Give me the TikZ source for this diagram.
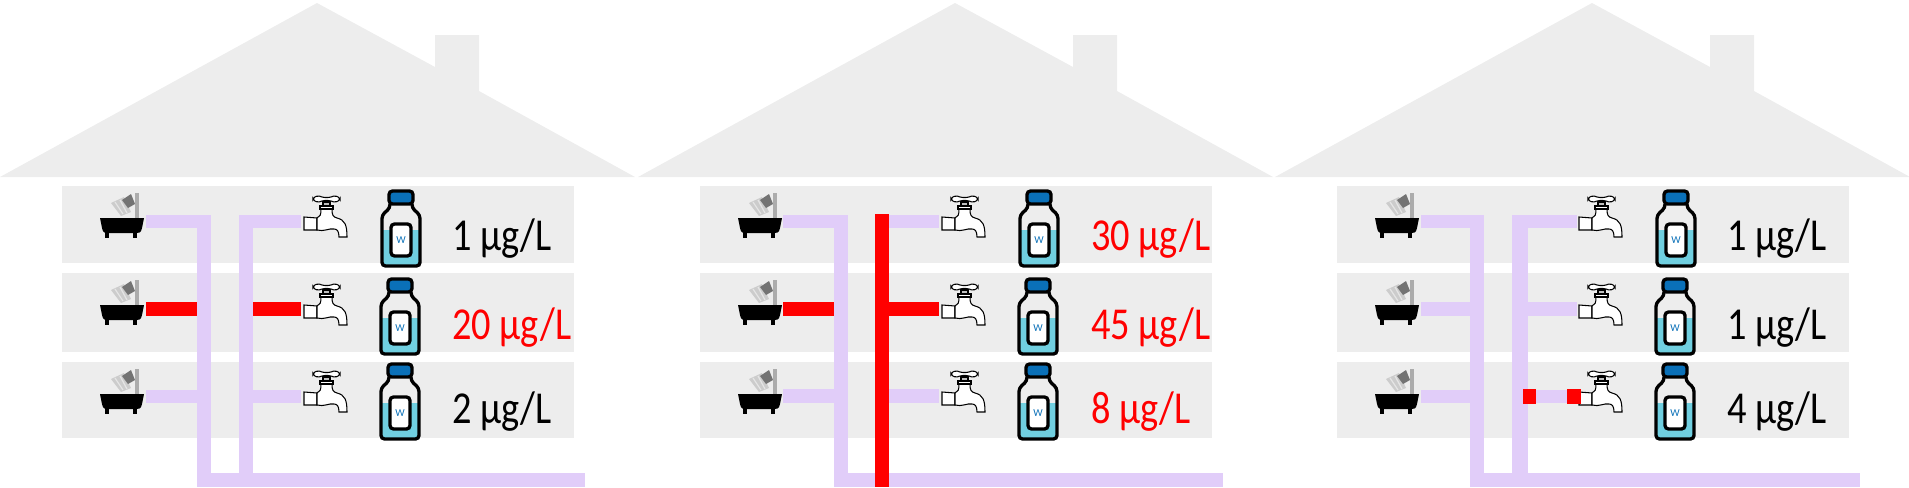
\documentclass[tikz,border=0pt]{standalone}
\usepackage{fontspec}
\setmainfont{Carlito}
\definecolor{wallgray}{RGB}{237, 237, 237}
\definecolor{pipelilac}{RGB}{225, 205, 249}
\definecolor{capblue}{RGB}{10, 112, 184}
\definecolor{waterblue}{RGB}{112, 207, 224}
\tikzset{
  pipe/.style={fill=pipelilac},
  hotpipe/.style={fill=red},
  wall/.style={fill=wallgray},
  conc/.style={font=\fontsize{26}{30}\selectfont, anchor=base west, inner sep=0pt, xscale=0.84},
  bath/.pic={
    % shower
    \fill[gray!65] (35,1) rectangle (39,26);
    \fill[gray!40] (11,11) -- (24,5) -- (31,20) -- (21,24) -- cycle;
    \draw[gray!20, line width=0.7pt] (15,10) -- (23,22) (20,8) -- (27,21);
    \fill[gray!90!black] (22,8) -- (31,2) -- (35,12) -- (28,16) -- cycle;
    % tub
    \fill[black] (0,26) -- (44,26) -- (42,36) .. controls (41,41) and (39,41) .. (37,41) -- (7,41) .. controls (5,41) and (3,41) .. (2,36) -- cycle;
    \fill[black] (5,39) rectangle (9,46);
    \fill[black] (33,39) rectangle (37,46);
  },
  tap/.pic={
    \draw[line width=0.6pt, fill=white] (0,22) -- (13,23) -- (13,35) -- (0,35) -- cycle;
    \draw[line width=0.6pt, fill=white] (13,23) .. controls (16,22) and (17,20) .. (17,14) -- (28,14) .. controls (28,20) and (29,22) .. (33,23) .. controls (41,25) and (43,30) .. (43,42) -- (35,42) .. controls (35,36) and (33,34) .. (30,34) .. controls (25,33) and (20,37) .. (13,35) -- cycle;
    \draw[line width=0.6pt, fill=gray!50] (19,7) rectangle (26,11);
    \draw[line width=0.6pt, fill=white] (16,11) rectangle (29,14);
    \draw[line width=0.6pt, fill=white, rounded corners=1pt] (9,3) -- (14,0.5) -- (19,2.5) -- (26,2.5) -- (31,0.5) -- (36,3) -- (36,5) -- (31,7.5) -- (26,5.5) -- (19,5.5) -- (14,7.5) -- (9,5) -- cycle;
  },
  bottle/.pic={
    % water
    \fill[waterblue] (1,40) rectangle (39,76);
    % glass
    \draw[line width=1.9pt, rounded corners=2pt] (9,14) -- (9,18) -- (1,25) -- (1,76) -- (39,76) -- (39,25) -- (31,18) -- (31,14);
    % cap
    \draw[line width=1.9pt, fill=capblue, rounded corners=2pt] (8,1) rectangle (32,14);
    % label
    \draw[line width=1.9pt, fill=white, rounded corners=2pt] (10,34) rectangle (30,66);
    \node[text=capblue, font=\fontsize{6}{6}\selectfont, inner sep=0pt] at (20,50) {W};
  },
  house/.pic={
    % roof and chimney
    \fill[wall] (0,177) -- (317,3) -- (435,67) -- (435,35) -- (479,35) -- (479,91) -- (635,177) -- cycle;
    % floors
    \fill[wall] (62,186) rectangle (574,263);
    \fill[wall] (62,273) rectangle (574,352);
    \fill[wall] (62,362) rectangle (574,438);
    % fixtures
    \pic at (100,192) {bath};
    \pic at (100,279) {bath};
    \pic at (100,368) {bath};
    \pic at (304,195) {tap};
    \pic at (304,283) {tap};
    \pic at (304,370) {tap};
    \pic at (381,190) {bottle};
    \pic at (380,278) {bottle};
    \pic at (380,363) {bottle};
  },
}

\begin{document}
\begin{tikzpicture}[x=0.02cm, y=-0.02cm]
  \useasboundingbox (0,0) rectangle (1909,487);

  \pic at (0,0) {house};
  \pic at (638,0) {house};
  \pic at (1275,0) {house};

  % First house
  \fill[pipe] (146,215) rectangle (211,228);
  \fill[pipe] (197,215) rectangle (211,487);
  \fill[pipe] (239,215) rectangle (253,473);
  \fill[pipe] (239,215) rectangle (301,228);
  \fill[pipe] (197,473) rectangle (585,487);
  \fill[pipe] (146,390) rectangle (197,403);
  \fill[pipe] (253,390) rectangle (301,403);
  \fill[hotpipe] (146,302) rectangle (197,316);
  \fill[hotpipe] (253,302) rectangle (301,316);
  \node[conc] (concA) at (452,250) {1 µg/L};
  \node[conc, text=red] (concB) at (452,339) {20 µg/L};
  \node[conc] (concC) at (452,423) {2 µg/L};

  % Second house
  \fill[pipe] (783,215) rectangle (848,228);
  \fill[pipe] (834,215) rectangle (848,487);
  \fill[pipe] (848,473) rectangle (1223,487);
  \fill[pipe] (783,389) rectangle (834,403);
  \fill[pipe] (889,215) rectangle (939,228);
  \fill[pipe] (889,389) rectangle (939,403);
  \fill[hotpipe] (783,302) rectangle (834,316);
  \fill[hotpipe] (875,214) rectangle (889,487);
  \fill[hotpipe] (889,302) rectangle (939,316);
  \node[conc, text=red] (concD) at (1091,250) {30 µg/L};
  \node[conc, text=red] (concE) at (1091,339) {45 µg/L};
  \node[conc, text=red] (concF) at (1091,423) {8 µg/L};

  % Third house
  \fill[pipe] (1421,215) rectangle (1484,228);
  \fill[pipe] (1470,215) rectangle (1484,487);
  \fill[pipe] (1512,215) rectangle (1528,473);
  \fill[pipe] (1512,215) rectangle (1577,228);
  \fill[pipe] (1470,473) rectangle (1860,487);
  \fill[pipe] (1421,302) rectangle (1470,316);
  \fill[pipe] (1421,390) rectangle (1470,403);
  \fill[pipe] (1528,302) rectangle (1577,316);
  \fill[pipe] (1528,390) rectangle (1567,403);
  \fill[hotpipe] (1523,389) rectangle (1536,404);
  \fill[hotpipe] (1567,389) rectangle (1581,404);
  \node[conc] (concG) at (1727,250) {1 µg/L};
  \node[conc] (concH) at (1727,339) {1 µg/L};
  \node[conc] (concI) at (1727,423) {4 µg/L};
\end{tikzpicture}
\end{document}
